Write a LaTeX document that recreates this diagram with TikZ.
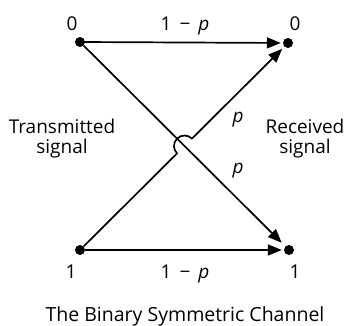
\documentclass[tikz,border=0pt]{standalone}
\usepackage{fontspec}
\setmainfont{Open Sans}
\usetikzlibrary{arrows.meta,calc}
\begin{document}
\begin{tikzpicture}[x=1pt,y=-1pt,
  dot/.style={circle,fill=black,inner sep=0pt,minimum size=10pt},
  lbl/.style={font=\fontsize{19}{20}\selectfont,inner sep=0pt,anchor=base},
  conn/.style={line width=1.7pt,-{Triangle[length=14pt,width=11pt]}}
]
\useasboundingbox (0,0) rectangle (345,326);
% dots
\node[dot] (t0) at (80,42) {};
\node[dot] (r0) at (288,43) {};
\node[dot] (b1) at (80,250) {};
\node[dot] (r1) at (289,250) {};
% labels
\node[lbl] (lt0) at (72,31) {0};
\node[lbl] (lr0) at (295,31) {0};
\node[lbl] (lb1) at (71,278) {1};
\node[lbl] (lr1) at (295,278) {1};
\node[lbl] (ptop) at (185,31) {1 \,−\, \textit{p}};
\node[lbl] (pbot) at (185,278) {1 \,−\, \textit{p}};
\node[lbl] (pu) at (238,122) {\textit{p}};
\node[lbl] (pl) at (238,173) {\textit{p}};
\node[lbl,align=center,anchor=base] (tx) at (62,153) {Transmitted\\signal};
\node[lbl,align=center,anchor=base] (rx) at (305,153) {Received\\signal};
\node[lbl,font=\fontsize{19.5}{21}\selectfont] (title) at (185,321) {The Binary Symmetric Channel};
% connectors
\draw[conn,shorten >=2pt] (t0) -- (r0);
\draw[conn,shorten >=2pt] (b1) -- (r1);
\draw[conn,shorten >=5pt] (t0) -- (r1);
\coordinate (X) at (intersection of t0--r1 and b1--r0);
\coordinate (hA) at ($(X)!10.5pt!(b1)$);
\coordinate (hB) at ($(X)!10.5pt!(r0)$);
\coordinate (hC) at ($(X)!10.5pt!(t0)$);
\draw[conn,shorten >=3pt] (b1) -- (hA)
  .. controls ($(hA)+0.5523*(hC)-0.5523*(X)$) and ($(hC)+0.5523*(hA)-0.5523*(X)$) .. (hC)
  .. controls ($(hC)+0.5523*(hB)-0.5523*(X)$) and ($(hB)+0.5523*(hC)-0.5523*(X)$) .. (hB)
  -- (r0);
\end{tikzpicture}
\end{document}
